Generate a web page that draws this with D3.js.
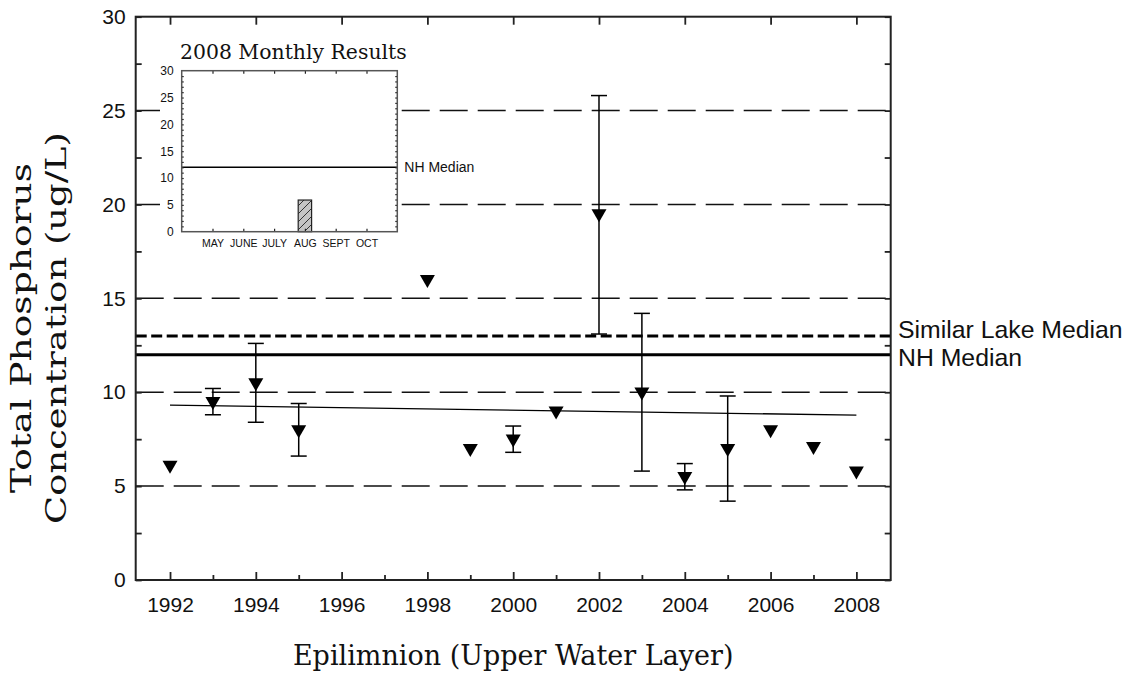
<!DOCTYPE html>
<html>
<head>
<meta charset="utf-8">
<script src="https://cdn.jsdelivr.net/npm/d3@7"></script>
<style>
    body { margin: 0; background: #fff; }
    svg { display: block; }
    .tick text { font-family: "Liberation Sans", Arial, sans-serif; fill: #111; }
    .tick line { stroke: #222; }
</style>
</head>
<body>
<svg id="chart" width="1133" height="677"></svg>
<script>
// Annual epilimnion results
const years = [1992, 1993, 1994, 1995, 1998, 1999, 2000, 2001, 2002, 2003, 2004, 2005, 2006, 2007, 2008];
const meanTP = [6.0, 9.4, 10.4, 7.9, 15.9, 6.9, 7.4, 8.9, 19.4, 9.9, 5.4, 6.9, 7.9, 7.0, 5.7];
const lowTP = [null, 8.8, 8.4, 6.6, null, null, 6.8, null, 13.1, 5.8, 4.8, 4.2, null, null, null];
const highTP = [null, 10.2, 12.6, 9.4, null, null, 8.2, null, 25.8, 14.2, 6.2, 9.8, null, null, null];

// Trend line end points
const trendYears = [1992, 2008];
const trendTP = [9.31, 8.78];

// Reference lines
const nhMedian = 12;
const similarLakeMedian = 13;
const gridValues = [5, 10, 15, 20, 25];

// 2008 monthly results (inset)
const monthNums = [5, 6, 7, 8, 9, 10];
const monthNames = ['MAY', 'JUNE', 'JULY', 'AUG', 'SEPT', 'OCT'];
const sampleMonths = [8];
const sampleTP = [5.9];

const svg = d3.select('#chart');

const x = d3.scaleLinear().domain([1991.2, 2008.8]).range([135.7, 890.7]);
const y = d3.scaleLinear().domain([0, 30]).range([580, 16.7]);

const points = years.map((yr, i) => ({ year: yr, tp: meanTP[i], low: lowTP[i], high: highTP[i] }));

// Hatch pattern for the monthly bar
const defs = svg.append('defs');
defs.append('pattern')
    .attr('id', 'hatch')
    .attr('patternUnits', 'userSpaceOnUse')
    .attr('width', 8)
    .attr('height', 8)
    .call(p => {
        p.append('rect').attr('width', 8).attr('height', 8).attr('fill', '#c4c4c4');
        p.append('path')
            .attr('d', 'M-2,2 L2,-2 M0,8 L8,0 M6,10 L10,6')
            .attr('stroke', '#333')
            .attr('stroke-width', 1);
    });

const plot = svg.append('g');

// Dashed grid lines
plot.append('g')
    .selectAll('line')
    .data(gridValues)
    .join('line')
    .attr('x1', x.range()[0])
    .attr('x2', x.range()[1])
    .attr('y1', d => y(d))
    .attr('y2', d => y(d))
    .attr('stroke', '#111')
    .attr('stroke-width', 1.5)
    .attr('stroke-dasharray', '28,10');

// Similar lake median (thick dashed) and NH median (thick solid)
plot.append('line')
    .attr('x1', x.range()[0]).attr('x2', x.range()[1])
    .attr('y1', y(similarLakeMedian)).attr('y2', y(similarLakeMedian))
    .attr('stroke', '#000')
    .attr('stroke-width', 3)
    .attr('stroke-dasharray', '11,4.5');

plot.append('line')
    .attr('x1', x.range()[0]).attr('x2', x.range()[1])
    .attr('y1', y(nhMedian)).attr('y2', y(nhMedian))
    .attr('stroke', '#000')
    .attr('stroke-width', 3);

// Trend line
plot.append('path')
    .datum(trendYears.map((yr, i) => [yr, trendTP[i]]))
    .attr('fill', 'none')
    .attr('stroke', '#000')
    .attr('stroke-width', 1.3)
    .attr('d', d3.line().x(d => x(d[0])).y(d => y(d[1])));

// Error bars
const bars = plot.append('g')
    .selectAll('g')
    .data(points.filter(d => d.low !== null))
    .join('g')
    .attr('stroke', '#000')
    .attr('stroke-width', 1.5);

bars.append('line')
    .attr('x1', d => x(d.year)).attr('x2', d => x(d.year))
    .attr('y1', d => y(d.low)).attr('y2', d => y(d.high));
bars.append('line')
    .attr('x1', d => x(d.year) - 8).attr('x2', d => x(d.year) + 8)
    .attr('y1', d => y(d.low)).attr('y2', d => y(d.low));
bars.append('line')
    .attr('x1', d => x(d.year) - 8).attr('x2', d => x(d.year) + 8)
    .attr('y1', d => y(d.high)).attr('y2', d => y(d.high));

// Down-pointing triangles
plot.append('g')
    .selectAll('path')
    .data(points)
    .join('path')
    .attr('transform', d => `translate(${x(d.year)},${y(d.tp)})`)
    .attr('d', 'M-7.5,-6.5 L7.5,-6.5 L0,6.5 Z')
    .attr('fill', '#000');

// Main axes
const axisFont = 21;

const bottomMajor = svg.append('g')
    .attr('transform', `translate(0,${y(0)})`)
    .call(d3.axisBottom(x).tickValues(d3.range(1992, 2009, 2)).tickFormat(d3.format('d'))
        .tickSize(-8).tickPadding(17));
bottomMajor.selectAll('text').attr('font-size', axisFont);

svg.append('g')
    .attr('transform', `translate(0,${y(0)})`)
    .call(d3.axisBottom(x).tickValues(d3.range(1993, 2009, 2)).tickFormat('').tickSize(-5));

svg.append('g')
    .attr('transform', `translate(0,${y(30)})`)
    .call(d3.axisTop(x).tickValues(d3.range(1992, 2009, 2)).tickFormat('').tickSize(-8));

const leftAxis = svg.append('g')
    .attr('transform', `translate(${x.range()[0]},0)`)
    .call(d3.axisLeft(y).tickValues(d3.range(0, 31, 5)).tickSize(-6).tickPadding(10));
leftAxis.selectAll('text').attr('font-size', axisFont);

svg.append('g')
    .attr('transform', `translate(${x.range()[0]},0)`)
    .call(d3.axisLeft(y).tickValues(d3.range(2.5, 30, 5)).tickFormat('').tickSize(-6));

svg.append('g')
    .attr('transform', `translate(${x.range()[1]},0)`)
    .call(d3.axisRight(y).tickValues(d3.range(0, 30.1, 2.5)).tickFormat('').tickSize(-6));

svg.selectAll('.domain').remove();
svg.selectAll('.tick line').attr('stroke-width', 1.8);

// Inset: 2008 monthly results
const ix = d3.scaleLinear().domain([4, 11]).range([181.7, 397.3]);
const iy = d3.scaleLinear().domain([0, 30]).range([231.7, 70.7]);

const inset = svg.append('g');

inset.append('rect')
    .attr('x', 160)
    .attr('y', 28)
    .attr('width', ix.range()[1] - 160)
    .attr('height', 224)
    .attr('fill', '#fff');

inset.append('text')
    .attr('x', 180)
    .attr('y', 59)
    .attr('font-family', '"DejaVu Serif", serif')
    .attr('font-size', 20.4)
    .attr('fill', '#111')
    .text('2008 Monthly Results');

inset.append('g')
    .selectAll('rect')
    .data(sampleMonths.map((m, i) => ({ month: m, tp: sampleTP[i] })))
    .join('rect')
    .attr('x', d => ix(d.month) - 6.7)
    .attr('width', 13.4)
    .attr('y', d => iy(d.tp))
    .attr('height', d => iy(0) - iy(d.tp))
    .attr('fill', 'url(#hatch)')
    .attr('stroke', '#222')
    .attr('stroke-width', 1.2);

inset.append('line')
    .attr('x1', ix.range()[0]).attr('x2', ix.range()[1])
    .attr('y1', iy(nhMedian)).attr('y2', iy(nhMedian))
    .attr('stroke', '#000')
    .attr('stroke-width', 1.5);

inset.append('text')
    .attr('x', ix.range()[1] + 7)
    .attr('y', iy(nhMedian) + 5)
    .attr('font-family', '"Liberation Sans", Arial, sans-serif')
    .attr('font-size', 14)
    .attr('fill', '#111')
    .text('NH Median');

const iBottom = inset.append('g')
    .attr('transform', `translate(0,${iy(0)})`)
    .call(d3.axisBottom(ix).tickValues(monthNums).tickFormat((d, i) => monthNames[i])
        .tickSize(-3).tickPadding(8));
iBottom.selectAll('text').attr('font-size', 10.5);

inset.append('g')
    .attr('transform', `translate(0,${iy(30)})`)
    .call(d3.axisTop(ix).tickValues(monthNums).tickFormat('').tickSize(-3));

const iLeft = inset.append('g')
    .attr('transform', `translate(${ix.range()[0]},0)`)
    .call(d3.axisLeft(iy).tickValues(d3.range(0, 31, 5)).tickSize(0).tickPadding(8));
iLeft.selectAll('text').attr('font-size', 12);

inset.append('g')
    .attr('transform', `translate(${ix.range()[0]},0)`)
    .call(d3.axisLeft(iy).tickValues(d3.range(1, 30, 1)).tickFormat('').tickSize(-2));

inset.append('g')
    .attr('transform', `translate(${ix.range()[1]},0)`)
    .call(d3.axisRight(iy).tickValues(d3.range(1, 30, 1)).tickFormat('').tickSize(-2));

inset.selectAll('.domain').remove();
inset.selectAll('.tick line').attr('stroke', '#555').attr('stroke-width', 1.2);

inset.append('rect')
    .attr('x', ix.range()[0])
    .attr('y', iy(30))
    .attr('width', ix.range()[1] - ix.range()[0])
    .attr('height', iy(0) - iy(30))
    .attr('fill', 'none')
    .attr('stroke', '#555')
    .attr('stroke-width', 1.5);

// Main frame
svg.append('rect')
    .attr('x', x.range()[0])
    .attr('y', y(30))
    .attr('width', x.range()[1] - x.range()[0])
    .attr('height', y(0) - y(30))
    .attr('fill', 'none')
    .attr('stroke', '#222')
    .attr('stroke-width', 2);

// Median labels on the right
const labels = svg.append('g')
    .attr('font-family', '"Liberation Sans", Arial, sans-serif')
    .attr('font-size', 24.8)
    .attr('fill', '#111');
labels.append('text').attr('x', 898).attr('y', 338).text('Similar Lake Median');
labels.append('text').attr('x', 898).attr('y', 366).text('NH Median');

// Axis titles
svg.append('text')
    .attr('x', (x.range()[0] + x.range()[1]) / 2)
    .attr('y', 665)
    .attr('text-anchor', 'middle')
    .attr('font-family', '"DejaVu Serif", serif')
    .attr('font-size', 27)
    .attr('fill', '#111')
    .text('Epilimnion (Upper Water Layer)');

const yTitle = svg.append('text')
    .attr('transform', 'translate(0,328) rotate(-90)')
    .attr('text-anchor', 'middle')
    .attr('font-family', '"DejaVu Serif", serif')
    .attr('font-size', 27)
    .attr('fill', '#111');
yTitle.append('tspan').attr('x', 0).attr('y', 31)
    .attr('textLength', 330).attr('lengthAdjust', 'spacingAndGlyphs')
    .text('Total Phosphorus');
yTitle.append('tspan').attr('x', 0).attr('y', 66)
    .attr('textLength', 392).attr('lengthAdjust', 'spacingAndGlyphs')
    .text('Concentration (ug/L)');
</script>
</body>
</html>
